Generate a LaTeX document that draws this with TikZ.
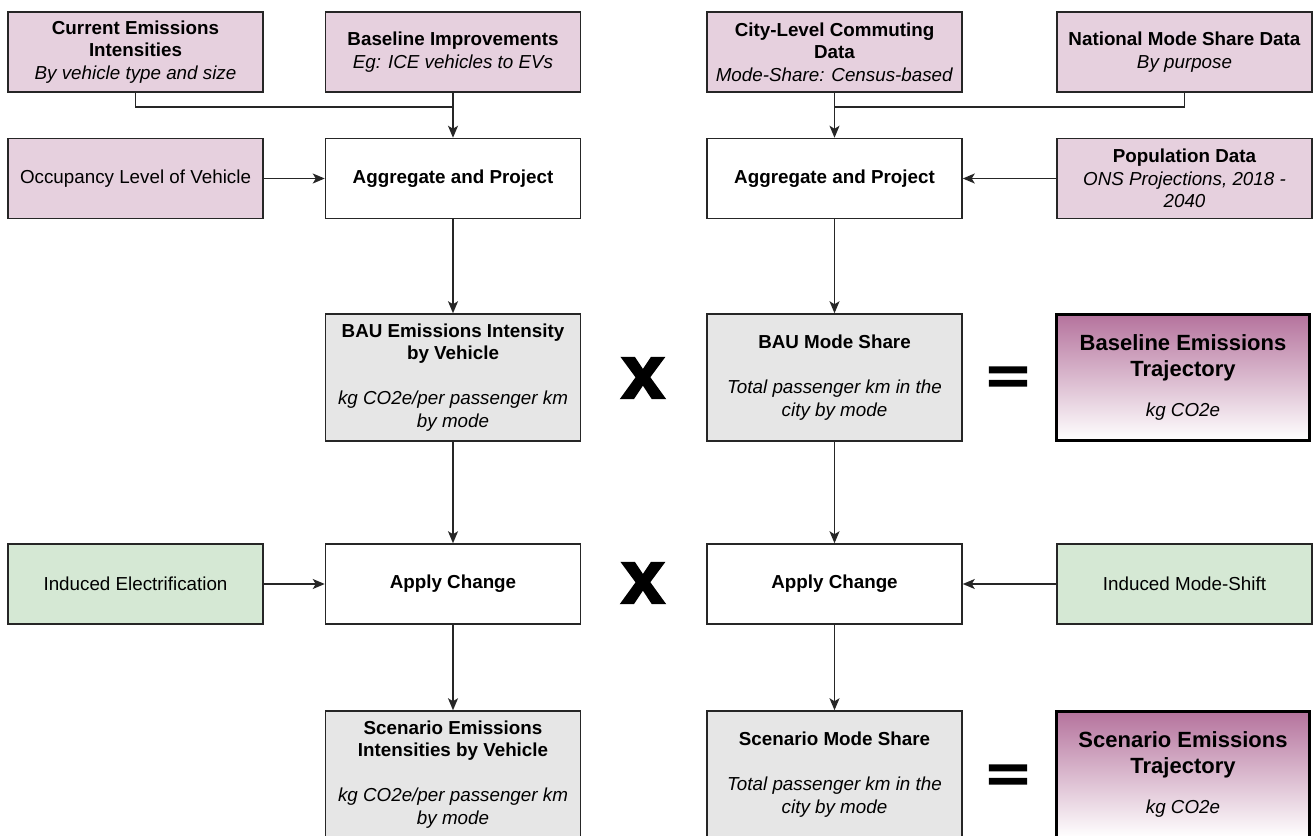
\documentclass[tikz,border=0pt]{standalone}
\usepackage{fontspec}
\setmainfont{Liberation Sans}
\newfontfamily\opfont[UprightFont=* Bold,FakeBold=3]{Liberation Sans}
\usetikzlibrary{arrows.meta}
\definecolor{inputpink}{HTML}{E6D0DE}
\definecolor{stepgrey}{HTML}{E6E6E6}
\definecolor{shiftgreen}{HTML}{D5E8D4}
\definecolor{resultpink}{HTML}{B5739D}
\newcommand{\boxfont}{\fontsize{18.8}{22.5}\selectfont}

\begin{document}
\begin{tikzpicture}[>={Stealth[length=12pt,width=10pt,inset=3pt]},x=1pt,y=-1pt,
  basebox/.style={draw=black!85,line width=1.5pt,align=center,inner sep=2pt,font=\boxfont,minimum width=255pt,minimum height=80pt},
  inbox/.style={basebox,fill=inputpink},
  stepbox/.style={basebox,fill=white},
  shiftbox/.style={basebox,fill=shiftgreen},
  midbox/.style={basebox,fill=stepgrey,minimum height=127pt},
  resultbox/.style={draw=black,line width=3pt,align=center,inner sep=2pt,font=\fontsize{22}{26}\selectfont\bfseries,
    top color=resultpink,bottom color=white,minimum width=253pt,minimum height=126pt},
  opsym/.style={inner sep=0pt,font=\fontsize{80}{80}\selectfont\opfont},
  link/.style={draw=black!85,line width=1.5pt},
  flow/.style={link,->}]
  \useasboundingbox (0,0) rectangle (1314,835);
  % data inputs
  \node[inbox] (curint) at (135.5,52) {\textbf{Current Emissions}\\\textbf{Intensities}\\\textit{By vehicle type and size}};
  \node[inbox] (baseimp) at (453,52) {\textbf{Baseline Improvements}\\\textit{Eg: ICE vehicles to EVs}};
  \node[inbox] (citycom) at (834.5,52) {\textbf{City-Level Commuting}\\\textbf{Data}\\\textit{Mode-Share: Census-based}};
  \node[inbox] (natmode) at (1184.5,52) {\textbf{National Mode Share Data}\\\textit{By purpose}};
  \node[inbox] (occup) at (135.5,178.5) {Occupancy Level of Vehicle};
  \node[stepbox] (aggint) at (453,178.5) {\textbf{Aggregate and Project}};
  \node[stepbox] (aggmode) at (834.5,178.5) {\textbf{Aggregate and Project}};
  \node[inbox] (popdata) at (1184.5,178.5) {\textbf{Population Data}\\\textit{ONS Projections, 2018 -}\\\textit{2040}};
  % business as usual
  \node[midbox] (bauint) at (453,377.5) {\textbf{BAU Emissions Intensity}\\\textbf{by Vehicle}\\[22.5pt]\textit{kg CO2e/per passenger km}\\\textit{by mode}};
  \node[midbox] (baumode) at (834.5,377.5) {\textbf{BAU Mode Share}\\[22.5pt]\textit{Total passenger km in the}\\\textit{city by mode}};
  \node[resultbox] (basetraj) at (1183,377.5) {Baseline Emissions\\Trajectory\\[14pt]{\boxfont\mdseries\itshape kg CO2e}};
  % scenario
  \node[shiftbox] (indelec) at (135.5,584) {Induced Electrification};
  \node[stepbox] (applyint) at (453,584) {\textbf{Apply Change}};
  \node[stepbox] (applymode) at (834.5,584) {\textbf{Apply Change}};
  \node[shiftbox] (indshift) at (1184.5,584) {Induced Mode-Shift};
  \node[midbox] (scenint) at (453,774.5) {\textbf{Scenario Emissions}\\\textbf{Intensities by Vehicle}\\[22.5pt]\textit{kg CO2e/per passenger km}\\\textit{by mode}};
  \node[midbox] (scenmode) at (834.5,774.5) {\textbf{Scenario Mode Share}\\[22.5pt]\textit{Total passenger km in the}\\\textit{city by mode}};
  \node[resultbox] (scentraj) at (1183,774.5) {Scenario Emissions\\Trajectory\\[14pt]{\boxfont\mdseries\itshape kg CO2e}};
  % operators
  \foreach \yy/\nm in {378/timesbau,583/timesapply}
    \node[opsym] (\nm) at (643,\yy) {\scalebox{0.97}[0.95]{x}};
  \foreach \yy/\nm in {380/eqbase,778/eqscen}
    \node[opsym] (\nm) at (1008,\yy) {\scalebox{0.9}[0.62]{=}};
  % connectors
  \coordinate (joinint) at (453,107);
  \coordinate (joinmode) at (834.5,107);
  \draw[link] (curint.south) |- (joinint);
  \draw[link] (natmode.south) |- (joinmode);
  \draw[flow] (baseimp) -- (aggint);
  \draw[flow] (citycom) -- (aggmode);
  \draw[flow] (occup) -- (aggint);
  \draw[flow] (popdata) -- (aggmode);
  \draw[flow] (indelec) -- (applyint);
  \draw[flow] (indshift) -- (applymode);
  \foreach \aa/\bb in {aggint/bauint,bauint/applyint,applyint/scenint,aggmode/baumode,baumode/applymode,applymode/scenmode}
    \draw[flow] (\aa) -- (\bb);
\end{tikzpicture}
\end{document}
